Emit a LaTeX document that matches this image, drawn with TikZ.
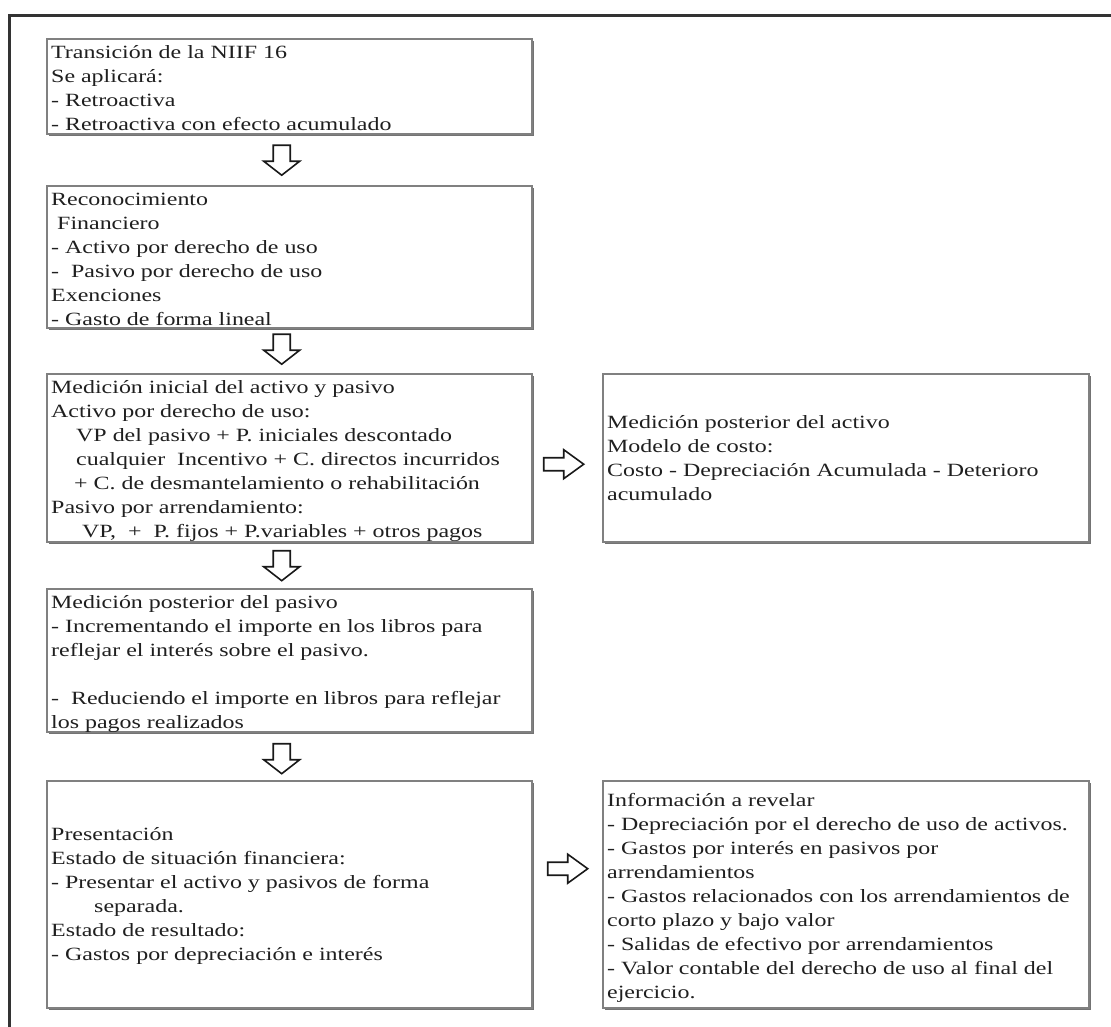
\documentclass[tikz,border=0pt]{standalone}
\usepackage{fontspec}
\setmainfont{Liberation Serif}[FakeStretch=1.28]
\usetikzlibrary{calc,shadows}
\begin{document}
\begin{tikzpicture}[x=1pt,y=-1pt,
  box/.style={draw=black!50, line width=2.4pt, fill=white, rectangle, inner sep=0pt, anchor=north west,
    general shadow={shadow xshift=1.5pt, shadow yshift=-1.5pt, fill=black!55}},
  txt/.style={anchor=north west, inner sep=0pt, align=left, text=black!88, font=\fontsize{18.7}{24}\selectfont},
  blk/.style={draw=black!90, line width=1.6pt, fill=white, line join=miter},
  downarr/.pic={\draw[blk] (-8.5,-15) -- (8.5,-15) -- (8.5,1) -- (18,1) -- (0,15) -- (-18,1) -- (-8.5,1) -- cycle;},
  rightarr/.pic={\draw[blk] (-20,-6.5) -- (0,-6.5) -- (0,-14.5) -- (20,0) -- (0,14.5) -- (0,6.5) -- (-20,6.5) -- cycle;},
]
\useasboundingbox (0,0) rectangle (1111,1026);
\clip (0,0) rectangle (1111,1026);
\fill[white] (0,0) rectangle (1111,1026);
\draw[line width=3pt, draw=black!80] (9,15) rectangle (1140,1060);

% boxes
\node[box, minimum width=485pt, minimum height=95pt]  (b1) at (46,38)  {};
\node[box, minimum width=485pt, minimum height=142pt] (b2) at (46,185) {};
\node[box, minimum width=485pt, minimum height=168pt] (b3) at (46,373) {};
\node[box, minimum width=485pt, minimum height=143pt] (b4) at (46,588) {};
\node[box, minimum width=485pt, minimum height=227pt] (b5) at (46,780) {};
\node[box, minimum width=486pt, minimum height=168pt] (ba) at (602,373) {};
\node[box, minimum width=486pt, minimum height=227pt] (bb) at (602,780) {};

% texts
\node[txt] (t1) at ($(b1.north west)+(5,3.2)$) {\strut Transición de la NIIF 16\\Se aplicará:\\- Retroactiva\\- Retroactiva con efecto acumulado};
\node[txt] (t2) at ($(b2.north west)+(5,3.2)$) {\strut Reconocimiento\\\hspace*{6pt}Financiero\\- Activo por derecho de uso\\- \ Pasivo por derecho de uso\\Exenciones\\- Gasto de forma lineal};
\node[txt] (t3) at ($(b3.north west)+(5,3.2)$) {\strut Medición inicial del activo y pasivo\\Activo por derecho de uso:\\
\hspace*{25pt}VP del pasivo + P. iniciales descontado\\
\hspace*{25pt}cualquier \ Incentivo + C. directos incurridos\\
\hspace*{23pt}+ C. de desmantelamiento o rehabilitación\\
Pasivo por arrendamiento:\\
\hspace*{31pt}VP, \ + \ P. fijos + P.variables + otros pagos};
\node[txt] (t4) at ($(b4.north west)+(5,3.2)$) {\strut Medición posterior del pasivo\\- Incrementando el importe en los libros para\\reflejar el interés sobre el pasivo.\\[24pt]- \ Reduciendo el importe en libros para reflejar\\los pagos realizados};
\node[txt] (t5) at ($(b5.north west)+(5,43.2)$) {\strut Presentación\\Estado de situación financiera:\\- Presentar el activo y pasivos de forma\\\hspace*{43pt}separada.\\Estado de resultado:\\- Gastos por depreciación e interés};
\node[txt] (ta) at ($(ba.north west)+(5,38.2)$) {\strut Medición posterior del activo\\Modelo de costo:\\Costo - Depreciación Acumulada - Deterioro\\acumulado};
\node[txt] (tb) at ($(bb.north west)+(5,9)$) {\strut Información a revelar\\- Depreciación por el derecho de uso de activos.\\- Gastos por interés en pasivos por\\arrendamientos\\- Gastos relacionados con los arrendamientos de\\corto plazo y bajo valor\\- Salidas de efectivo por arrendamientos\\- Valor contable del derecho de uso al final del\\ejercicio.};

% block arrows
\coordinate (m1) at ($(b1.south)!0.5!(b2.north)$);
\coordinate (m2) at ($(b2.south)!0.5!(b3.north)$);
\coordinate (m3) at ($(b3.south)!0.5!(b4.north)$);
\coordinate (m4) at ($(b4.south)!0.5!(b5.north)$);
\coordinate (r1) at ($(b3.east)!0.5!(ba.west)$);
\coordinate (r2) at ($(b5.east)!0.5!(bb.west)$);
\pic at ($(m1)+(-8,0)$) {downarr};
\pic at ($(m2)+(-8,-2)$) {downarr};
\pic at ($(m3)+(-8,0)$) {downarr};
\pic at ($(m4)+(-8,2)$) {downarr};
\pic at ($(r1)+(-4,6)$) {rightarr};
\pic at ($(r2)+(0,-26)$) {rightarr};
\end{tikzpicture}
\end{document}
